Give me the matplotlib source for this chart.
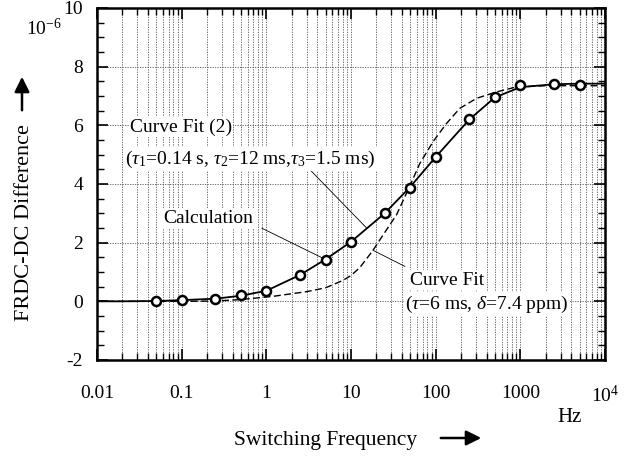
import matplotlib
matplotlib.use("Agg")
import matplotlib.pyplot as plt
import numpy as np

plt.rcParams['font.family'] = ['Liberation Serif', 'DejaVu Serif']
plt.rcParams['mathtext.fontset'] = 'custom'
plt.rcParams['mathtext.rm'] = 'Liberation Serif'
plt.rcParams['mathtext.it'] = 'Liberation Serif:italic'
plt.rcParams['axes.unicode_minus'] = False

# Measured points (Calculation, circles)
calc_f = [0.05, 0.1, 0.25, 0.5, 1, 2.5, 5, 10, 25, 50, 100, 250, 500, 1000, 2500, 5000]
calc_v = [0.0, 0.05, 0.09, 0.2, 0.35, 0.91, 1.42, 2.03, 3.01, 3.88, 4.92, 6.21, 6.97, 7.39, 7.42, 7.39]

# Curve Fit (2) solid line
fit2_f = [0.01, 0.02, 0.05, 0.1, 0.25, 0.5, 1, 2.5, 5, 10, 25, 50, 100, 250, 500, 1000, 2500, 5000, 10000]
fit2_v = [0.0, 0.0, 0.01, 0.04, 0.09, 0.19, 0.36, 0.9, 1.43, 2.03, 3.0, 3.9, 4.92, 6.2, 6.95, 7.3, 7.4, 7.42, 7.42]

# Curve Fit (single tau) dashed line
fit1_f = [0.01, 0.1, 0.25, 0.5, 1.2, 3, 5, 8, 10, 12.7, 18, 26, 34.5, 49.5, 65, 93, 134, 193, 304, 524, 902, 2000, 10000]
fit1_v = [0.0, 0.0, 0.01, 0.06, 0.17, 0.33, 0.46, 0.71, 0.88, 1.15, 1.72, 2.42, 2.95, 3.93, 4.7, 5.44, 6.06, 6.58, 6.92, 7.14, 7.31, 7.35, 7.35]

xticks = [0.01, 0.1, 1, 10, 100, 1000, 10000]
xticklabels = ['0.01', '0.1', '1', '10', '100', '1000', r'$10^4$']
yticks = [-2, 0, 2, 4, 6, 8, 10]
yticklabels = ['-2', '0', '2', '4', '6', '8', '10']

fig = plt.figure(figsize=(6.31, 4.59), dpi=100)
ax = fig.add_axes([0.1537, 0.2157, 0.8051, 0.7669])

ax.set_xscale('log')
ax.set_xlim(0.01, 10000)
ax.set_ylim(-2, 10)

ax.plot(fit2_f, fit2_v, color='black', lw=1.3, zorder=3)
ax.plot(fit1_f, fit1_v, color='black', lw=1.0, ls=(0, (5, 2.5)), zorder=3)
ax.plot(calc_f, calc_v, ls='none', marker='o', ms=6.5, mfc='white', mec='black', mew=1.8, zorder=4)

ax.set_xticks(xticks)
ax.set_xticklabels(xticklabels)
ax.set_xticks([m * 10.0 ** e for e in range(-2, 4) for m in range(2, 10)], minor=True)
ax.set_yticks(yticks)
ax.set_yticklabels(yticklabels)
ax.set_yticks(np.arange(-2, 10.01, 0.5), minor=True)

ax.tick_params(which='both', direction='in', top=True, right=True, labelsize=14)
ax.tick_params(which='major', length=8, width=1.2)
ax.tick_params(which='minor', length=5, width=1.0)
ax.tick_params(axis='x', which='major', pad=18)
ax.tick_params(axis='y', which='major', pad=10)

ax.grid(True, axis='x', which='both', ls=(0, (1.5, 1.5)), color='#555555', lw=0.6)
ax.grid(True, axis='y', which='major', ls=(0, (1.5, 1.5)), color='#555555', lw=0.6)
for s in ax.spines.values():
    s.set_linewidth(1.8)

bbox = dict(facecolor='white', edgecolor='none', pad=1)
fs = 14
ax.text(0.0245, 5.94, 'Curve Fit (2)', fontsize=fs, va='center', ha='left', bbox=bbox, zorder=5)
ax.text(0.0214, 4.85, r'($\tau_1$=0.14 s, $\tau_2$=12 ms,$\tau_3$=1.5 ms)', fontsize=fs,
        va='center', ha='left', bbox=bbox, zorder=5)
ax.text(0.060, 2.83, 'Calculation', fontsize=fs, va='center', ha='left', bbox=bbox, zorder=5)
ax.text(49.5, 0.72, 'Curve Fit', fontsize=fs, va='center', ha='left', bbox=bbox, zorder=5)
ax.text(43.3, -0.1, r'($\tau$=6 ms, $\delta$=7.4 ppm)', fontsize=fs, va='center', ha='left',
        bbox=bbox, zorder=5)

# leader lines
ax.plot([3.0, 15.4], [4.6, 2.49], color='black', lw=0.6, zorder=4)
ax.plot([0.89, 4.66], [2.49, 1.47], color='black', lw=0.6, zorder=4)
ax.plot([43.3, 18.2], [1.19, 1.74], color='black', lw=0.6, zorder=4)

# labels
fig.text(326 / 631, 1 - 440 / 459, 'Switching Frequency', fontsize=15.5, ha='center', va='center')
fig.text(25 / 631, 1 - 223 / 459, 'FRDC-DC Difference', fontsize=16, ha='center', va='center',
         rotation=90)
fig.text(570 / 631, 1 - 417 / 459, 'Hz', fontsize=15, ha='center', va='center')
fig.text(44 / 631, 1 - 28 / 459, r'$10^{-6}$', fontsize=14, ha='center', va='center')

fig.add_artist(matplotlib.patches.FancyArrowPatch((438 / 631, 1 - 438 / 459), (484 / 631, 1 - 438 / 459),
               transform=fig.transFigure, arrowstyle='-|>,head_length=6,head_width=3',
               color='black', lw=1.8, mutation_scale=1.5))
fig.add_artist(matplotlib.patches.FancyArrowPatch((22 / 631, 1 - 113 / 459), (22 / 631, 1 - 74 / 459),
               transform=fig.transFigure, arrowstyle='-|>,head_length=6,head_width=3',
               color='black', lw=1.8, mutation_scale=1.5))

fig.savefig('out.png', dpi=100)
